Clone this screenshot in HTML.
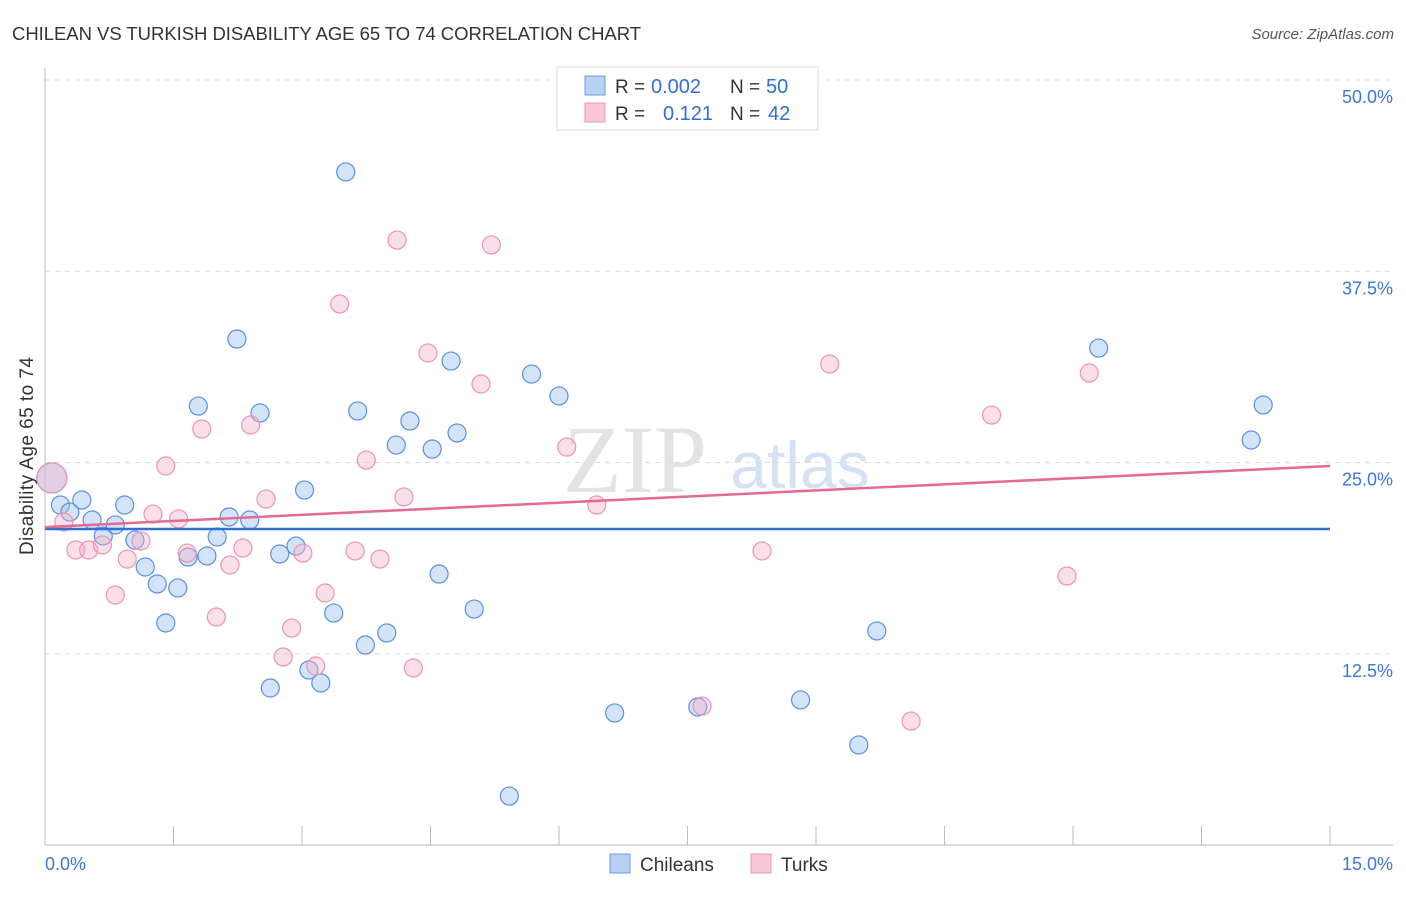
<!DOCTYPE html>
<html><head><meta charset="utf-8"><style>
body{margin:0;background:#fff;font-family:"Liberation Sans",sans-serif;}
</style></head><body>
<svg width="1406" height="892" xmlns="http://www.w3.org/2000/svg" id="chart">
<text x="12" y="40" font-size="18.5" fill="#333" textLength="629">CHILEAN VS TURKISH DISABILITY AGE 65 TO 74 CORRELATION CHART</text>
<text x="1394" y="39" font-size="15" fill="#555" font-style="italic" text-anchor="end">Source: ZipAtlas.com</text>
<g><text x="635" y="492" font-size="96" fill="#e3e3e3" font-family="Liberation Serif,serif" text-anchor="middle">ZIP</text><text x="800" y="488" font-size="66" fill="#d4e2f3" text-anchor="middle">atlas</text></g>
<g id="grid"></g><g id="axes"></g><g id="pts"></g><g id="lines"></g>
<text transform="translate(33,456) rotate(-90)" font-size="19" fill="#333" text-anchor="middle" textLength="198">Disability Age 65 to 74</text>
<g>
<rect x="557" y="67" width="261" height="63" fill="#fff" stroke="#ddd"/>
<rect x="585" y="76" width="20" height="19" fill="#b8d0f2" stroke="#6a9be0"/>
<rect x="585" y="103" width="20" height="19" fill="#f9c7d6" stroke="#e89ab0"/>
<text x="615" y="93" font-size="19" fill="#333">R =</text><text x="651" y="93" font-size="20" fill="#2f6fd6">0.002</text>
<text x="730" y="93" font-size="19" fill="#333">N =</text><text x="766" y="93" font-size="20" fill="#2f6fd6">50</text>
<text x="615" y="120" font-size="19" fill="#333">R =</text><text x="663" y="120" font-size="20" fill="#2f6fd6">0.121</text>
<text x="730" y="120" font-size="19" fill="#333">N =</text><text x="768" y="120" font-size="20" fill="#2f6fd6">42</text>
</g>
<g>
<rect x="610" y="854" width="20" height="19" fill="#b8d0f2" stroke="#6a9be0"/>
<text x="640" y="871" font-size="19" fill="#333">Chileans</text>
<rect x="751" y="854" width="20" height="19" fill="#f9c7d6" stroke="#e89ab0"/>
<text x="781" y="871" font-size="19" fill="#333">Turks</text>
</g>
</svg>
<script>
const yTicks=[12.5,25,37.5,50];
const yTickLabels=["12.5%","25.0%","37.5%","50.0%"];
const xTickLabels=["0.0%","15.0%"];
const blueX=[0.08,0.18,0.29,0.43,0.55,0.68,0.82,0.93,1.05,1.17,1.31,1.41,1.55,1.67,1.79,1.89,2.01,2.15,2.24,2.39,2.51,2.63,2.74,2.93,3.03,3.08,3.22,3.37,3.51,3.65,3.74,3.99,4.10,4.26,4.52,4.60,4.74,4.81,5.01,5.42,5.68,6.00,6.65,7.62,8.82,9.50,9.71,12.30,14.08,14.22];
const blueY=[23.99,22.22,21.76,22.55,21.24,20.20,20.92,22.22,19.93,18.17,17.06,14.51,16.80,18.82,28.69,18.89,20.13,21.44,33.07,21.24,28.24,10.26,19.02,19.54,23.20,11.44,10.59,15.16,43.99,28.37,13.07,13.86,26.14,27.71,25.88,17.71,31.63,26.93,15.42,3.20,30.78,29.35,8.63,9.02,9.48,6.54,13.99,32.48,26.47,28.76];
const pinkX=[0.08,0.22,0.36,0.51,0.67,0.82,0.96,1.12,1.26,1.41,1.56,1.66,1.83,2.00,2.16,2.31,2.40,2.58,2.78,2.88,3.01,3.16,3.27,3.44,3.62,3.75,3.91,4.11,4.19,4.30,4.47,5.09,5.21,6.09,6.44,7.67,8.37,9.16,10.11,11.05,11.93,12.19];
const pinkY=[23.99,21.11,19.28,19.28,19.61,16.34,18.69,19.87,21.63,24.77,21.31,19.08,27.19,14.90,18.30,19.41,27.45,22.61,12.29,14.18,19.08,11.70,16.47,35.36,19.22,25.16,18.69,39.54,22.75,11.57,32.16,30.13,39.22,26.01,22.22,9.08,19.22,31.44,8.10,28.10,17.58,30.85];
const blueTrend=[20.65,20.65];
const pinkTrend=[20.78,24.77];
const X=v=>45+v/15*1285, Y=v=>845-v/50*765;
const NS="http://www.w3.org/2000/svg";
function mk(t,a,p){const e=document.createElementNS(NS,t);for(const k in a)e.setAttribute(k,a[k]);p.appendChild(e);return e;}
const grid=document.getElementById('grid'),axes=document.getElementById('axes'),pts=document.getElementById('pts'),lines=document.getElementById('lines');
yTicks.forEach((t,i)=>{
 const g=mk('line',{x1:45,x2:1393,y1:Y(t),y2:Y(t),stroke:'#ddd','stroke-dasharray':'5,5'},grid);
 
 
 const l=mk('text',{x:1393,y:Y(t)+23,'font-size':18,fill:'#3a78d8','text-anchor':'end'},axes);
 l.textContent=yTickLabels[i];
 
 
});
const ya=mk('line',{x1:45,x2:45,y1:68,y2:845,stroke:'#bbb'},axes);


const xa=mk('line',{x1:45,x2:1393,y1:845,y2:845,stroke:'#bbb'},axes);


for(let i=0;i<=10;i++){const t=mk('line',{x1:X(i*1.5),x2:X(i*1.5),y1:826,y2:845,stroke:'#bbb'},axes);
 
 }
[[0,'start',45],[15,'end',1393]].forEach((d,i)=>{const t=mk('text',{x:d[2],y:870,'font-size':18,fill:'#3a78d8','text-anchor':d[1]},axes);t.textContent=xTickLabels[i];
 
 });
function dots(xs,ys,fill,stroke,name){xs.forEach((x,i)=>{const c=mk('circle',{cx:X(x),cy:Y(ys[i]),r:(i===0?15:9),fill:fill,stroke:stroke,'stroke-width':1.2},pts);
 
 });}
dots(blueX,blueY,'rgba(160,195,240,0.45)','#5b8fe0','chilean-point');
dots(pinkX,pinkY,'rgba(245,175,198,0.4)','#e895b0','turkish-point');
const bl=mk('line',{x1:X(0),x2:X(15),y1:Y(blueTrend[0]),y2:Y(blueTrend[1]),stroke:'#2f6fd6','stroke-width':2.5},lines);


const pl=mk('line',{x1:X(0),x2:X(15),y1:Y(pinkTrend[0]),y2:Y(pinkTrend[1]),stroke:'#e46a92','stroke-width':2.5},lines);


</script>
</body></html>
